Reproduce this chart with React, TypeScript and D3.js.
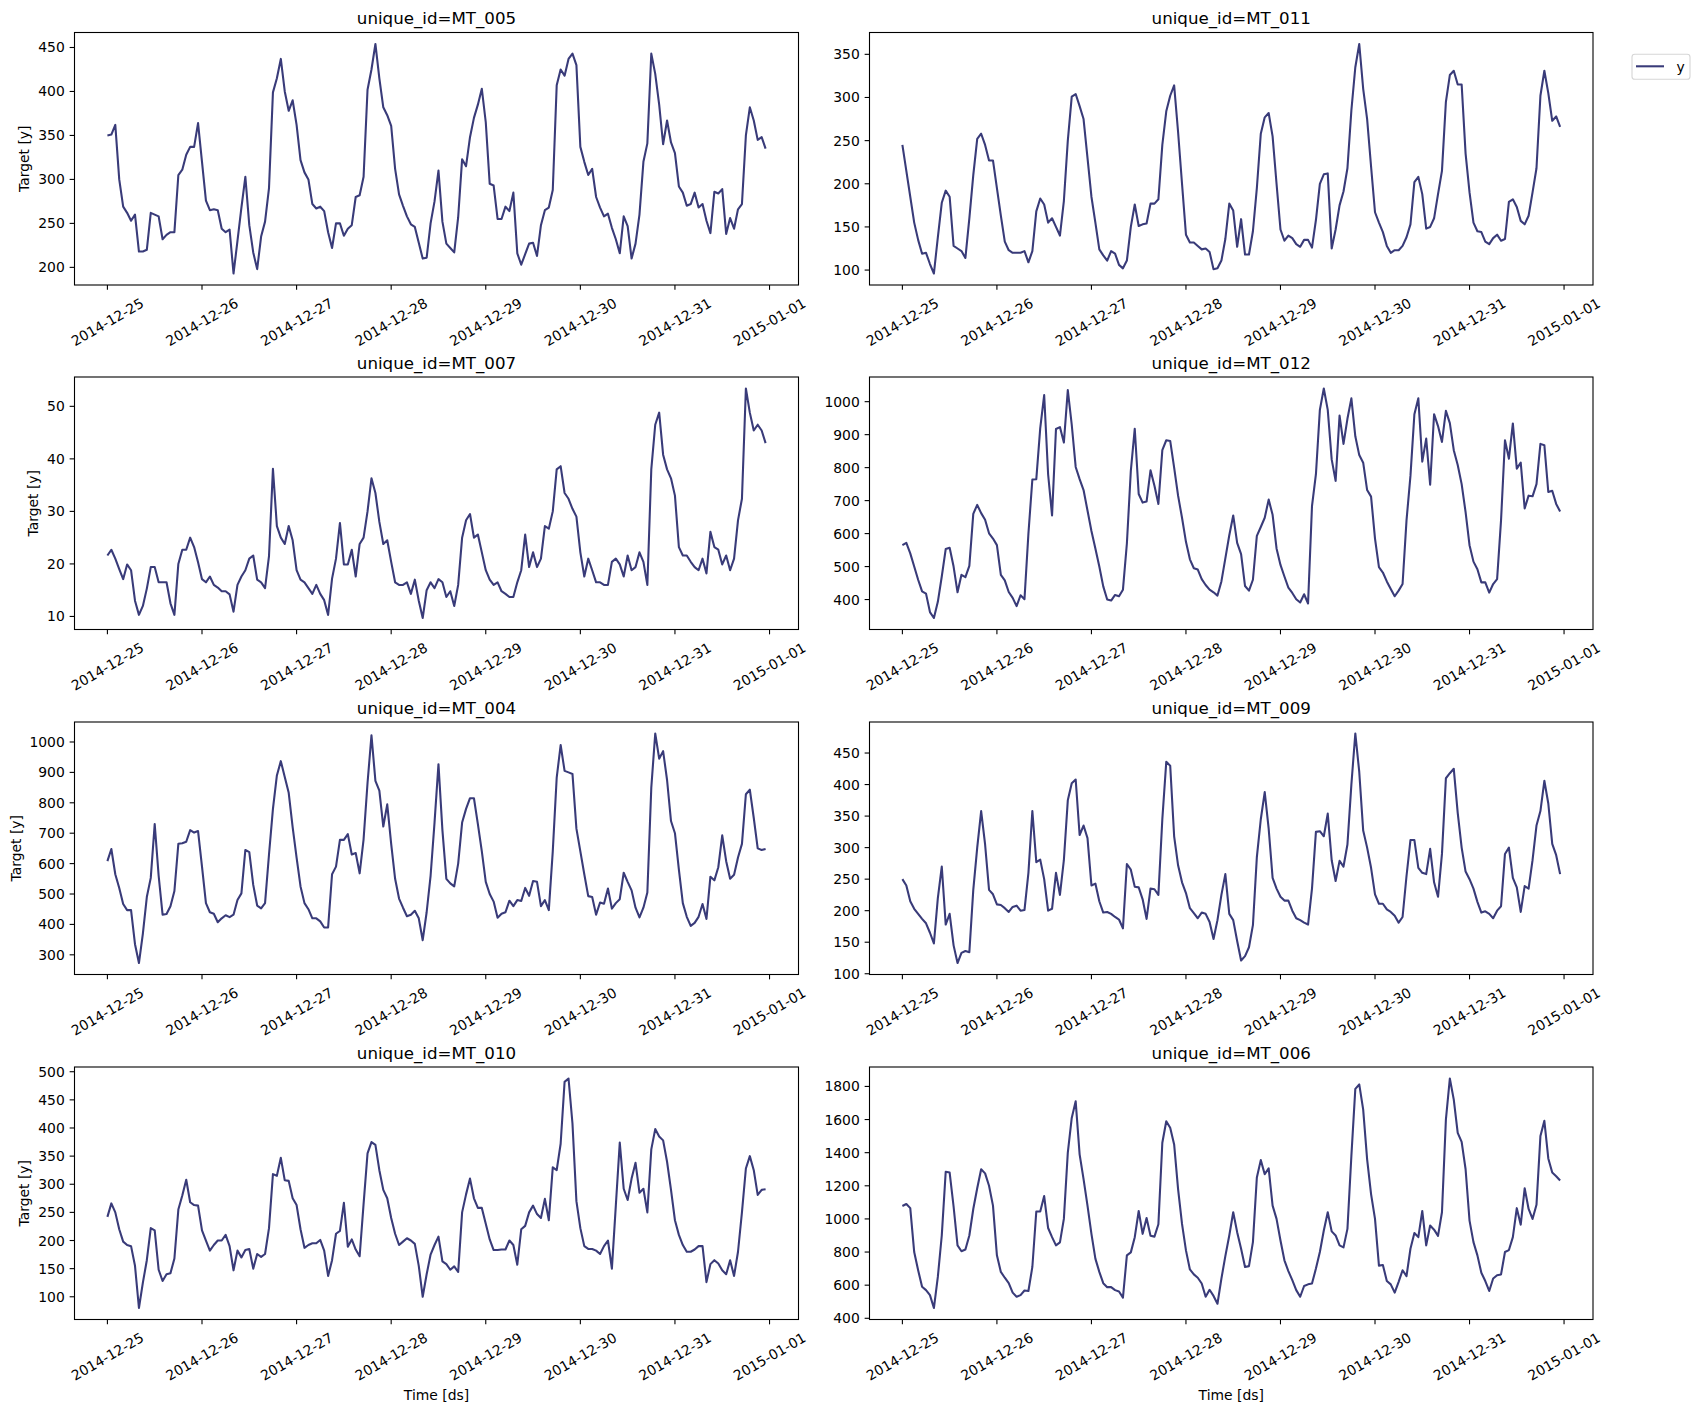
import * as d3 from 'd3';

// hourly series, 2014-12-25 00:00 .. 2014-12-31 23:00
const MT_005 = [
  350, 351, 362, 300, 269, 262, 253, 260, 218, 218, 220, 262, 260, 258, 232, 237, 240, 240, 305, 311, 328, 337, 337, 364,
  320, 276, 265, 266, 265, 244, 240, 243, 193, 230, 268, 303, 248, 217, 198, 235, 252, 290, 399, 415, 437, 400, 378, 390,
  362, 322, 308, 300, 272, 267, 269, 264, 240, 222, 250, 250, 236, 244, 248, 280, 282, 303, 402, 425, 454, 415, 382, 373,
  361, 312, 283, 270, 258, 249, 246, 228, 210, 211, 250, 275, 310, 252, 227, 222, 217, 257, 323, 315, 348, 370, 385, 403,
  365, 295, 293, 255, 255, 269, 264, 285, 216, 203, 215, 227, 228, 213, 248, 265, 268, 288, 407, 425, 418, 437, 443, 430,
  337, 320, 305, 312, 280, 268, 258, 261, 245, 232, 216, 258, 247, 210, 227, 260, 320, 341, 443, 420, 385, 340, 367, 342,
  330, 292, 285, 270, 272, 285, 268, 272, 253, 239, 286, 284, 289, 238, 256, 244, 266, 272, 350, 382, 367, 345, 348, 335,
];

const MT_011 = [
  245, 215, 185, 155, 135, 119, 120, 107, 96, 138, 178, 192, 185, 128, 125, 122, 114, 160, 210, 252, 258, 245, 227, 227,
  195, 163, 133, 123, 120, 120, 120, 122, 109, 122, 168, 183, 176, 155, 160, 150, 140, 180, 250, 301, 304, 290, 275, 230,
  185, 155, 124, 117, 111, 122, 119, 106, 102, 111, 150, 176, 151, 153, 154, 177, 177, 182, 245, 284, 302, 314, 260, 200,
  141, 132, 132, 128, 124, 125, 121, 101, 102, 111, 136, 177, 169, 127, 159, 118, 118, 145, 195, 258, 277, 282, 255, 200,
  147, 134, 140, 137, 130, 127, 135, 135, 126, 158, 200, 211, 212, 125, 147, 175, 191, 218, 285, 335, 362, 310, 275, 220,
  167, 155, 144, 128, 120, 123, 123, 128, 138, 153, 202, 208, 188, 148, 150, 160, 188, 215, 295, 326, 331, 315, 315, 235,
  190, 155, 145, 144, 133, 130, 137, 141, 134, 136, 179, 182, 173, 157, 153, 163, 190, 218, 302, 331, 305, 273, 278, 266,
];

const MT_007 = [
  21.6, 22.7, 21, 19, 17.1, 19.9, 18.8, 13, 10.3, 12, 15.3, 19.4, 19.4, 16.5, 16.5, 16.5, 12.5, 10.3, 20, 22.7, 22.7, 25, 23.2, 20.3,
  17.1, 16.5, 17.6, 16, 15.5, 14.8, 14.8, 14.2, 10.9, 16, 17.6, 18.8, 21, 21.6, 17, 16.5, 15.4, 21.5, 38.1, 27.2, 25, 23.8, 27.2, 24.5,
  18.8, 17, 16.5, 15.4, 14.3, 16, 14.3, 13.1, 10.3, 17.2, 21, 27.8, 19.9, 19.9, 22.7, 17.6, 23.8, 25, 30, 36.3, 33.5, 28, 23.8, 24.5,
  20.4, 16.5, 16, 16, 16.5, 14.3, 17, 13, 9.7, 15, 16.5, 15.4, 17.1, 16.5, 13.7, 14.8, 12, 16, 25, 28.3, 29.5, 25, 25.6, 22.2,
  18.8, 17, 16, 16.5, 14.8, 14.3, 13.7, 13.7, 16.5, 18.8, 25.6, 19.4, 22.2, 19.4, 21, 27.2, 26.7, 30, 38, 38.6, 33.5, 32.4, 30.5, 29,
  22.2, 17.6, 21, 18.8, 16.5, 16.5, 16, 16, 20.4, 21, 19.9, 17.6, 21.6, 18.8, 19.4, 22.2, 20.4, 16, 38, 46.5, 48.8, 40.8, 38, 36.3,
  33, 23.2, 21.6, 21.6, 20.4, 19.4, 18.8, 21, 18.2, 26.1, 23.2, 22.7, 19.9, 21.6, 18.8, 21, 28.3, 32.4, 53.4, 48.8, 45.4, 46.5, 45.4, 43,
];

const MT_012 = [
  565, 572, 540, 500, 460, 425, 418, 362, 344, 393, 470, 553, 557, 500, 422, 475, 468, 502, 660, 687, 662, 642, 601, 585,
  565, 475, 458, 423, 405, 380, 413, 401, 600, 764, 765, 920, 1020, 780, 655, 917, 923, 876, 1035, 930, 802, 765, 732, 670,
  608, 555, 500, 440, 400, 397, 414, 410, 430, 570, 790, 918, 720, 694, 697, 792, 745, 690, 853, 883, 881, 800, 715, 648,
  575, 522, 495, 491, 462, 444, 430, 422, 412, 455, 525, 595, 655, 572, 538, 441, 427, 460, 593, 620, 648, 703, 657, 555,
  505, 470, 436, 420, 401, 391, 416, 388, 683, 780, 975, 1040, 975, 825, 760, 958, 872, 948, 1010, 895, 838, 815, 732, 712,
  585, 498, 482, 455, 432, 410, 427, 447, 640, 775, 962, 1010, 818, 888, 748, 962, 926, 878, 972, 935, 853, 808, 750, 665,
  565, 515, 492, 452, 452, 421, 447, 462, 640, 883, 827, 934, 797, 815, 676, 715, 713, 750, 872, 868, 726, 730, 690, 667,
];

const MT_004 = [
  608, 648, 565, 520, 467, 447, 447, 335, 273, 370, 490, 553, 730, 560, 432, 434, 460, 510, 665, 667, 672, 710, 702, 707,
  590, 470, 440, 435, 407, 420, 430, 424, 432, 480, 502, 645, 638, 530, 462, 453, 470, 630, 780, 890, 937, 885, 833, 720,
  620, 525, 470, 450, 420, 420, 410, 390, 390, 565, 590, 678, 678, 697, 630, 635, 568, 680, 865, 1022, 872, 840, 722, 795,
  665, 550, 485, 455, 427, 432, 445, 420, 348, 440, 560, 735, 927, 710, 550, 535, 525, 600, 735, 780, 815, 815, 730, 640,
  540, 500, 475, 422, 435, 440, 478, 460, 480, 477, 520, 494, 543, 540, 460, 480, 447, 640, 883, 990, 905, 900, 895, 715,
  640, 565, 493, 490, 432, 472, 468, 518, 452, 470, 483, 570, 540, 512, 455, 423, 455, 505, 850, 1028, 945, 970, 875, 740,
  700, 580, 470, 425, 395, 405, 425, 467, 418, 557, 545, 588, 693, 608, 550, 563, 620, 665, 828, 843, 750, 650, 645, 648,
];

const MT_009 = [
  250, 240, 215, 203, 195, 187, 180, 165, 148, 220, 270, 178, 195, 145, 117, 133, 136, 134, 233, 300, 358, 305, 233, 226,
  210, 209, 204, 198, 206, 208, 200, 201, 260, 358, 277, 281, 250, 200, 203, 260, 225, 280, 375, 402, 408, 320, 335, 315,
  240, 243, 215, 197, 198, 195, 190, 186, 172, 274, 265, 238, 237, 218, 187, 235, 234, 225, 345, 436, 430, 318, 272, 245,
  228, 204, 196, 188, 197, 195, 182, 155, 185, 225, 258, 195, 185, 152, 121, 128, 142, 177, 285, 345, 388, 330, 252, 235,
  222, 216, 216, 200, 188, 185, 181, 178, 235, 325, 326, 318, 354, 280, 247, 279, 270, 305, 400, 481, 420, 327, 300, 268,
  226, 211, 211, 202, 198, 192, 181, 190, 255, 312, 312, 268, 260, 258, 298, 245, 222, 290, 410, 418, 425, 355, 300, 262,
  250, 235, 214, 197, 199, 195, 188, 200, 207, 290, 300, 252, 237, 198, 239, 235, 280, 335, 358, 406, 370, 306, 288, 258,
];

const MT_010 = [
  242, 266, 250, 220, 198, 192, 190, 155, 80, 125, 165, 222, 218, 148, 128, 140, 142, 168, 255, 280, 308, 268, 263, 262,
  218, 200, 182, 192, 200, 200, 210, 190, 147, 182, 170, 183, 185, 150, 176, 171, 176, 222, 318, 315, 347, 307, 306, 275,
  263, 220, 187, 192, 195, 195, 201, 182, 137, 165, 212, 217, 267, 189, 202, 184, 172, 265, 355, 375, 370, 325, 290, 275,
  240, 212, 192, 198, 204, 200, 194, 155, 100, 140, 175, 192, 207, 163, 158, 148, 154, 144, 250, 282, 310, 275, 258, 258,
  230, 202, 183, 183, 184, 184, 200, 192, 157, 220, 226, 250, 262, 247, 240, 274, 236, 330, 325, 372, 482, 488, 408, 270,
  222, 190, 185, 185, 182, 176, 190, 200, 150, 262, 374, 292, 272, 310, 338, 285, 292, 250, 362, 398, 385, 378, 340, 290,
  236, 210, 192, 180, 180, 184, 190, 190, 126, 158, 165, 159, 147, 140, 165, 137, 180, 250, 328, 350, 325, 281, 290, 291,
];

const MT_006 = [
  1078, 1090, 1065, 800, 690, 590, 570, 540, 462, 650, 900, 1285, 1280, 1075, 840, 805, 815, 900, 1060, 1185, 1300, 1275, 1200, 1080,
  780, 680, 645, 612, 555, 530, 540, 568, 565, 710, 1045, 1045, 1138, 945, 890, 840, 858, 1000, 1400, 1610, 1710, 1390, 1240, 1080,
  910, 760, 680, 612, 588, 588, 570, 562, 525, 780, 798, 890, 1048, 910, 1005, 898, 893, 968, 1460, 1590, 1550, 1450, 1180, 970,
  810, 695, 665, 645, 610, 530, 572, 535, 488, 640, 775, 900, 1040, 920, 820, 710, 715, 860, 1250, 1355, 1270, 1305, 1080, 1000,
  870, 750, 685, 630, 570, 530, 595, 605, 610, 700, 800, 930, 1040, 925, 900, 840, 828, 940, 1380, 1785, 1812, 1660, 1360, 1150,
  1000, 718, 722, 625, 605, 555, 620, 690, 655, 820, 915, 890, 1048, 840, 960, 935, 898, 1040, 1600, 1848, 1720, 1520, 1465, 1300,
  990, 860, 780, 675, 625, 565, 640, 660, 665, 800, 812, 890, 1065, 965, 1185, 1060, 1000, 1085, 1500, 1592, 1365, 1280, 1258, 1232,
];

const xTickLabels = [
  '2014-12-25', '2014-12-26', '2014-12-27', '2014-12-28',
  '2014-12-29', '2014-12-30', '2014-12-31', '2015-01-01',
];

const ticks005 = [200, 250, 300, 350, 400, 450];
const ticks011 = [100, 150, 200, 250, 300, 350];
const ticks007 = [10, 20, 30, 40, 50];
const ticks012 = [400, 500, 600, 700, 800, 900, 1000];
const ticks004 = [300, 400, 500, 600, 700, 800, 900, 1000];
const ticks009 = [100, 150, 200, 250, 300, 350, 400, 450];
const ticks010 = [100, 150, 200, 250, 300, 350, 400, 450, 500];
const ticks006 = [400, 600, 800, 1000, 1200, 1400, 1600, 1800];

const panels = [
  { id: 'MT_005', values: MT_005, ticks: ticks005 },
  { id: 'MT_011', values: MT_011, ticks: ticks011 },
  { id: 'MT_007', values: MT_007, ticks: ticks007 },
  { id: 'MT_012', values: MT_012, ticks: ticks012 },
  { id: 'MT_004', values: MT_004, ticks: ticks004 },
  { id: 'MT_009', values: MT_009, ticks: ticks009 },
  { id: 'MT_010', values: MT_010, ticks: ticks010 },
  { id: 'MT_006', values: MT_006, ticks: ticks006 },
];

const W = 1697;
const H = 1411;
const FONT = '"DejaVu Sans", sans-serif';
const LINE = '#393b79';
const COL_L = [74.5, 869.5];
const COL_R = [798.5, 1593];
const ROW_T = [32.5, 377, 722, 1067];
const AX_H = 252.5;
const TICK = 4.86;
const PAD = 4.86;

const hours = d3.utcHour.range(new Date(Date.UTC(2014, 11, 25)), new Date(Date.UTC(2015, 0, 1)));
const tickDates = xTickLabels.map((s) => new Date(`${s}T00:00:00Z`));

function Panel({ p, col, row }: { p: (typeof panels)[0]; col: number; row: number }) {
  const left = COL_L[col];
  const right = COL_R[col];
  const top = ROW_T[row];
  const bottom = top + AX_H;

  const t0 = +hours[0];
  const t1 = +hours[hours.length - 1];
  const span = t1 - t0;
  const x = d3
    .scaleUtc()
    .domain([new Date(t0 - span * 0.05), new Date(t1 + span * 0.05)])
    .range([left, right]);

  const [lo, hi] = d3.extent(p.values) as [number, number];
  const m = (hi - lo) * 0.05;
  const y = d3.scaleLinear().domain([lo - m, hi + m]).range([bottom, top]);

  const line = d3
    .line<number>()
    .x((_, i) => x(hours[i]))
    .y((v) => y(v));

  const maxChars = d3.max(p.ticks, (t) => String(t).length) || 3;
  const ylabX = left - TICK - PAD - maxChars * 8.84 - 5.56 - 3.3;

  return (
    <g>
      <text
        x={(left + right) / 2}
        y={top - 8.33}
        textAnchor="middle"
        fontSize={16.67}
        fill="#000"
      >
        {`unique_id=${p.id}`}
      </text>

      <path d={line(p.values) || ''} fill="none" stroke={LINE} strokeWidth={2.08} strokeLinejoin="round" />

      <rect x={left} y={top} width={right - left} height={AX_H} fill="none" stroke="#000" strokeWidth={1.1} />

      {tickDates.map((d, i) => (
        <g key={i}>
          <line x1={x(d)} x2={x(d)} y1={bottom} y2={bottom + TICK} stroke="#000" strokeWidth={1.1} />
          <text
            transform={`translate(${x(d)},${bottom + 37}) rotate(-30)`}
            textAnchor="middle"
            dominantBaseline="central"
            fontSize={13.9}
          >
            {xTickLabels[i]}
          </text>
        </g>
      ))}

      {p.ticks.map((t) => (
        <g key={t}>
          <line x1={left - TICK} x2={left} y1={y(t)} y2={y(t)} stroke="#000" strokeWidth={1.1} />
          <text x={left - TICK - PAD} y={y(t)} textAnchor="end" dominantBaseline="central" fontSize={13.9}>
            {t}
          </text>
        </g>
      ))}

      {col === 0 && (
        <text
          transform={`translate(${ylabX},${(top + bottom) / 2}) rotate(-90)`}
          textAnchor="middle"
          fontSize={13.9}
        >
          Target [y]
        </text>
      )}

      {row === 3 && (
        <text x={(left + right) / 2} y={bottom + 80} textAnchor="middle" fontSize={13.9}>
          Time [ds]
        </text>
      )}
    </g>
  );
}

export default function App() {
  return (
    <div style={{ position: 'absolute', left: 0, top: 0, background: '#fff' }}>
      <svg width={W} height={H} style={{ display: 'block', fontFamily: FONT }}>
        <rect width={W} height={H} fill="#fff" />
        {panels.map((p, i) => (
          <Panel key={p.id} p={p} col={i % 2} row={Math.floor(i / 2)} />
        ))}

        {/* legend */}
        <g>
          <rect x={1632} y={54.3} width={58} height={25} rx={2.8} fill="#fff" stroke="#d6d6d6" strokeWidth={1.1} />
          <line x1={1636} x2={1664} y1={66.3} y2={66.3} stroke={LINE} strokeWidth={2.08} />
          <text x={1676.5} y={71.5} fontSize={13.9}>
            y
          </text>
        </g>
      </svg>
    </div>
  );
}
